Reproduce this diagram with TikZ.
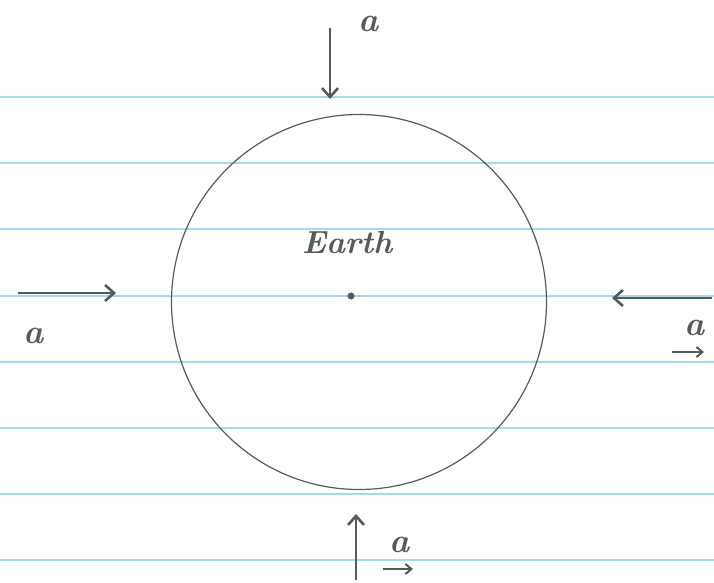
\documentclass[tikz,border=0pt]{standalone}
\usepackage{fontspec}
\usetikzlibrary{arrows.meta}
\definecolor{pencil}{RGB}{85,92,88}
\definecolor{rule}{RGB}{165,218,238}
\tikzset{
  ruling/.style={draw=rule, line width=1.3pt},
  force/.style={draw=pencil, line width=2.6pt, -{Straight Barb[length=9pt,width=16pt]}},
  lab/.style={text=pencil, inner sep=1pt, font=\bfseries\itshape\fontsize{34}{34}\selectfont},
  vecarrow/.style={draw=pencil, line width=2pt, -{Straight Barb[length=6pt,width=10pt]}}
}
\begin{document}
\begin{tikzpicture}[x=1pt,y=-1pt]
\useasboundingbox (0,0) rectangle (714,582);
\fill[white] (0,0) rectangle (714,582);
% ruled lines
\foreach \yy in {97,163,229,296,362,428,494,560}
  \draw[ruling] (0,\yy) -- (714,\yy);
% Earth
\node[draw=pencil, line width=1.2pt, circle, minimum size=375pt, inner sep=0pt] (earth) at (359,302) {};
\node[lab, font=\bfseries\itshape\fontsize{32}{32}\selectfont] (earthlab) at (347,243) {Earth};
\fill[pencil] (351,296) circle (3.5pt);
\coordinate (cdot) at (351,296);
% top arrow
\coordinate (t1) at (330,28);
\coordinate (t2) at (330,99);
\draw[force] (t1) -- (t2);
\node[lab] (ta) at (369,24) {a};
% left arrow
\coordinate (l1) at (18,293);
\coordinate (l2) at (116,293);
\draw[force] (l1) -- (l2);
\node[lab] (la) at (34,336) {a};
% right arrow
\coordinate (r1) at (712,298);
\coordinate (r2) at (612,298);
\draw[force] (r1) -- (r2);
\node[lab] (ra) at (695,328) {a};
\coordinate (rv1) at (672,352);
\coordinate (rv2) at (704,352);
\draw[vecarrow] (rv1) -- (rv2);
% bottom arrow
\coordinate (b1) at (356,580);
\coordinate (b2) at (356,514);
\draw[force] (b1) -- (b2);
\node[lab] (ba) at (400,545) {a};
\coordinate (bv1) at (383,569);
\coordinate (bv2) at (413,569);
\draw[vecarrow] (bv1) -- (bv2);
\end{tikzpicture}
\end{document}
